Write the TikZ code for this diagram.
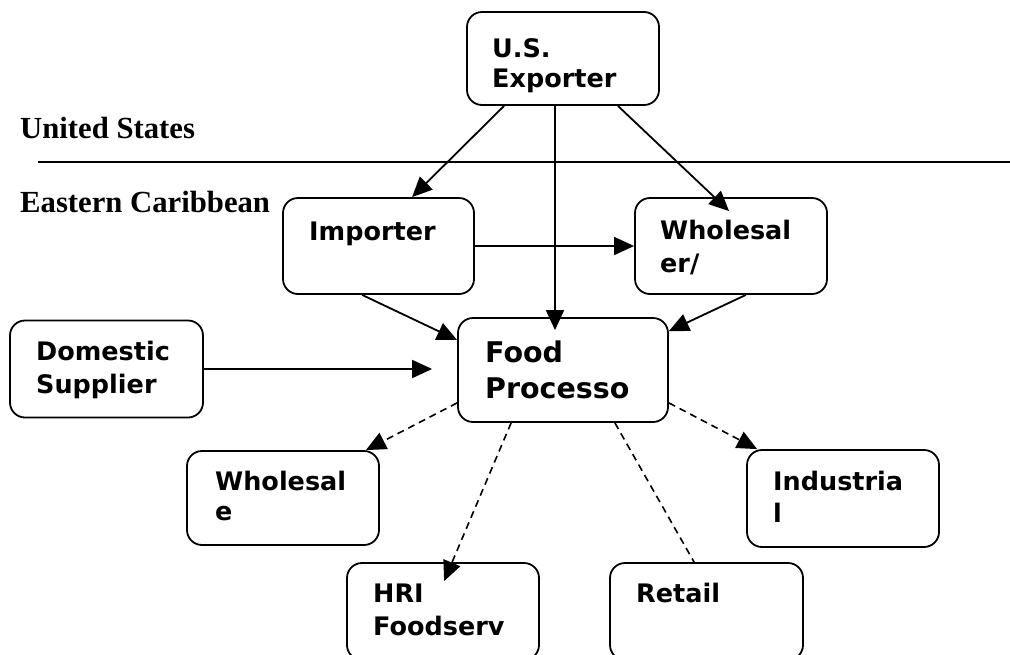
\documentclass[tikz,border=0pt]{standalone}
\usepackage{fontspec}
\setmainfont{Liberation Serif}
\newfontfamily\boxfont{DejaVu Sans}
\usetikzlibrary{arrows.meta}
\begin{document}
\begin{tikzpicture}[x=1pt,y=-1pt,
  box/.style={draw, line width=1.8pt, rounded corners=15pt, inner sep=0pt},
  txt/.style={anchor=base west, inner sep=0pt, font=\boxfont\bfseries\fontsize{25.5}{30}\selectfont},
  bigtxt/.style={anchor=base west, inner sep=0pt, font=\boxfont\bfseries\fontsize{28.5}{33}\selectfont},
  head/.style={anchor=base west, inner sep=0pt, font=\bfseries\fontsize{30.7}{36}\selectfont},
  arr/.style={line width=1.8pt, -{Triangle[length=20pt,width=18pt]}},
  darr/.style={line width=1.6pt, dash pattern=on 7pt off 5pt, -{Triangle[length=20pt,width=18pt]}},
  dline/.style={line width=1.6pt, dash pattern=on 7pt off 5pt},
]
\useasboundingbox (0,0) rectangle (1010,654);
\clip (0,0) rectangle (1010,654);
\fill[white] (0,0) rectangle (1010,654);

% headings and divider
\node[head] (us) at (20,138) {United States};
\node[head] (ec) at (20,212) {Eastern Caribbean};
\coordinate (dl) at (38,162);
\coordinate (dr) at (1010,162);
\draw[line width=1.8pt] (dl) -- (dr);

% boxes
\node[box, minimum width=192pt, minimum height=93pt] (exp) at (563,58.5) {};
\node[box, minimum width=191pt, minimum height=96pt] (imp) at (378.5,246) {};
\node[box, minimum width=192pt, minimum height=96pt] (whs) at (731,246) {};
\node[box, minimum width=193pt, minimum height=97pt] (dom) at (106.5,369) {};
\node[box, minimum width=210pt, minimum height=104pt] (food) at (563,370) {};
\node[box, minimum width=192pt, minimum height=94pt] (wsale) at (283,498) {};
\node[box, minimum width=192pt, minimum height=97pt] (ind) at (843,498.5) {};
\node[box, minimum width=192pt, minimum height=97pt] (hri) at (443,611.5) {};
\node[box, minimum width=193pt, minimum height=97pt] (ret) at (706.5,611.5) {};

% box texts
\node[txt] (expt1) at (492,57) {U.S.};
\node[txt] (expt2) at (492,87) {Exporter};
\node[txt] (impt) at (309,240) {Importer};
\node[txt] (whst1) at (660,239) {Wholesal};
\node[txt] (whst2) at (660,272) {er/};
\node[txt] (domt1) at (36,360) {Domestic};
\node[txt] (domt2) at (36,393) {Supplier};
\node[bigtxt] (foodt1) at (485,362) {Food};
\node[bigtxt] (foodt2) at (485,398) {Processo};
\node[txt] (wst1) at (215,490) {Wholesal};
\node[txt] (wst2) at (215,520) {e};
\node[txt] (indt1) at (773,490) {Industria};
\node[txt] (indt2) at (773,522) {l};
\node[txt] (hrit1) at (373,602) {HRI};
\node[txt] (hrit2) at (373,635) {Foodserv};
\node[txt] (rett) at (636,602) {Retail};

% solid connectors
\draw[arr] ([xshift=38pt]exp.south west) -- ([xshift=130pt]imp.north west);
\draw[arr] ([xshift=-8pt]exp.south) -- ([xshift=-8pt,yshift=-13pt]food.north);
\draw[arr] ([xshift=-42pt]exp.south east) -- ([xshift=95pt,yshift=-14pt]whs.north west);
\draw[arr] (imp.east) -- (whs.west);
\draw[arr] ([xshift=80pt]imp.south west) -- ([yshift=30pt]food.west);
\draw[arr] ([xshift=-82pt]whs.south east) -- ([yshift=-14pt]food.north east);
\draw[arr] (dom.east) -- ([xshift=-25pt]food.west |- dom.east);

% dashed connectors
\draw[darr] ([yshift=20pt]food.south west) -- ([xshift=-14pt]wsale.north east);
\draw[darr] ([xshift=54pt]food.south west) -- ([xshift=98pt,yshift=-19pt]hri.north west);
\draw[dline] ([xshift=-54pt]food.south east) -- ([xshift=85pt]ret.north west);
\draw[darr] ([yshift=20pt]food.south east) -- ([xshift=11pt]ind.north west);
\end{tikzpicture}
\end{document}
